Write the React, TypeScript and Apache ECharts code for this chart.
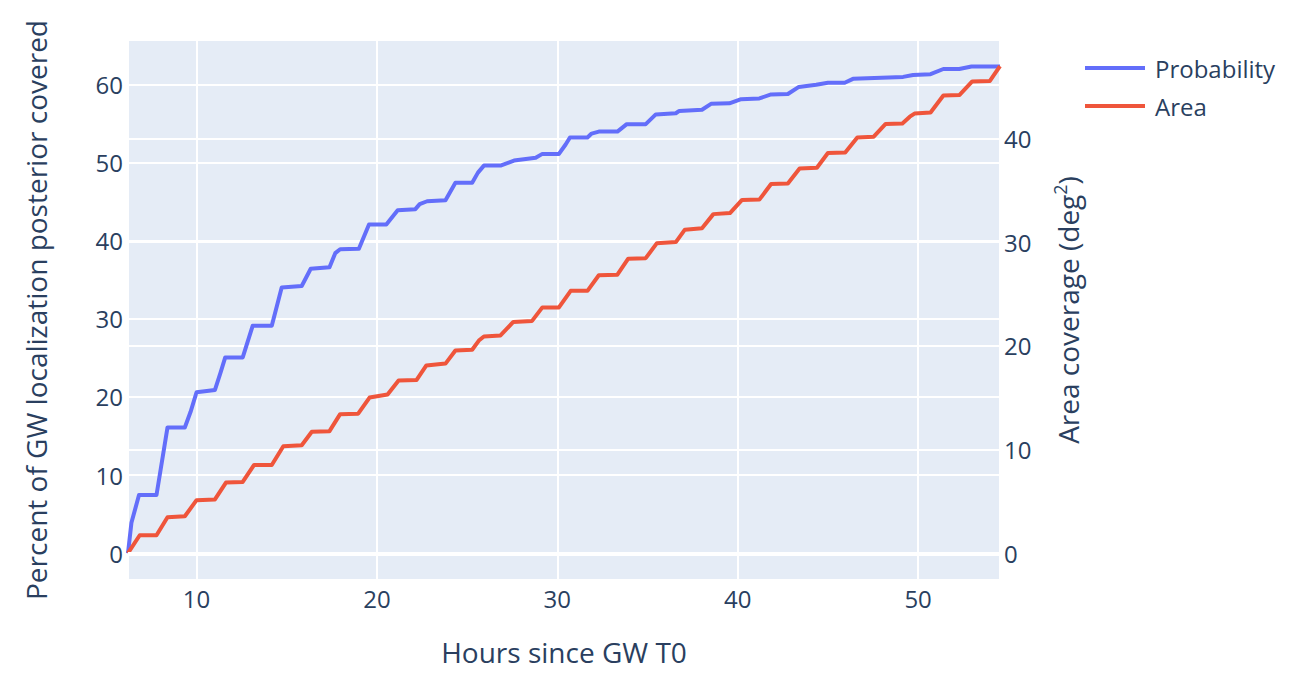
import React, { useEffect, useRef } from "react";
import * as echarts from "echarts";

const probHours = [6.2, 6.39, 6.81, 7.78, 8.39, 9.35, 9.67, 10.0, 11.02, 11.33, 11.59, 12.56, 13.11, 14.17, 14.72, 15.83, 16.33, 17.37, 17.69, 17.96, 19.0, 19.56, 20.52, 21.15, 22.13, 22.37, 22.78, 23.8, 24.35, 25.28, 25.6, 25.93, 26.85, 27.6, 28.8, 29.17, 30.09, 30.46, 30.7, 31.67, 31.9, 32.3, 33.33, 33.85, 34.9, 35.46, 36.57, 36.76, 38.02, 38.52, 39.54, 40.19, 41.2, 41.85, 42.78, 43.39, 44.35, 45.0, 45.93, 46.39, 49.17, 49.72, 50.69, 51.4, 52.28, 52.96, 54.54];
const probValues = [0, 3.9, 7.45, 7.45, 16.1, 16.1, 18.1, 20.6, 20.9, 23.1, 25.06, 25.06, 29.1, 29.1, 34.0, 34.2, 36.4, 36.6, 38.4, 38.9, 38.95, 42.07, 42.07, 43.9, 44.03, 44.67, 45.04, 45.18, 47.4, 47.4, 48.7, 49.6, 49.6, 50.25, 50.6, 51.1, 51.1, 52.3, 53.2, 53.2, 53.7, 53.95, 53.95, 54.9, 54.9, 56.15, 56.3, 56.6, 56.75, 57.5, 57.57, 58.1, 58.2, 58.7, 58.76, 59.67, 59.95, 60.2, 60.2, 60.7, 60.95, 61.2, 61.3, 61.96, 61.96, 62.28, 62.28];

const areaHours = [6.2, 6.85, 7.78, 8.39, 9.35, 10.0, 11.02, 11.63, 12.56, 13.19, 14.17, 14.81, 15.83, 16.39, 17.37, 17.96, 18.96, 19.59, 20.59, 21.2, 22.2, 22.74, 23.8, 24.35, 25.28, 25.65, 25.93, 26.85, 27.56, 28.6, 29.17, 30.09, 30.74, 31.67, 32.3, 33.33, 33.93, 34.9, 35.52, 36.57, 37.07, 38.02, 38.65, 39.57, 40.24, 41.2, 41.85, 42.78, 43.43, 44.39, 45.0, 45.96, 46.63, 47.54, 48.2, 49.13, 49.54, 49.8, 50.69, 51.4, 52.3, 53.0, 53.98, 54.54];
const areaValues = [0, 1.72, 1.72, 3.45, 3.55, 5.1, 5.17, 6.8, 6.86, 8.5, 8.5, 10.3, 10.4, 11.7, 11.76, 13.4, 13.45, 15.0, 15.3, 16.65, 16.7, 18.1, 18.28, 19.55, 19.62, 20.5, 20.9, 21.0, 22.3, 22.4, 23.7, 23.7, 25.3, 25.3, 26.8, 26.86, 28.4, 28.45, 29.9, 30.0, 31.2, 31.34, 32.7, 32.8, 34.07, 34.1, 35.6, 35.66, 37.1, 37.17, 38.6, 38.65, 40.1, 40.17, 41.4, 41.45, 42.1, 42.4, 42.5, 44.14, 44.2, 45.5, 45.55, 46.97];

const leftRange = [-3.42, 65.67];
const rightRange = [-2.6, 49.5];

const FONT = "'Open Sans', 'Noto Sans', sans-serif";
const TEXT = "#2a3f5f";

export default function App() {
  const ref = useRef<HTMLDivElement>(null);
  useEffect(() => {
    if (!ref.current) return;
    const chart = echarts.init(ref.current, null, { renderer: "svg" });
    const axisLabel = { color: TEXT, fontFamily: FONT, fontSize: 24, showMinLabel: false, showMaxLabel: false };
    chart.setOption({
      animation: false,
      backgroundColor: "#ffffff",
      textStyle: { fontFamily: FONT, color: TEXT },
      grid: { left: 128, right: 294, top: 40, bottom: 104, backgroundColor: "#E5ECF6", show: true, borderWidth: 0 },
      legend: {
        orient: "vertical",
        left: 1080,
        top: 48,
        itemWidth: 60,
        itemHeight: 4,
        itemGap: 8,
        data: [
          { name: "Probability", icon: "rect" },
          { name: "Area", icon: "rect" },
        ],
        textStyle: { color: TEXT, fontFamily: FONT, fontSize: 24, lineHeight: 30, padding: [0, 0, 0, 5] },
      },
      xAxis: {
        type: "value",
        min: probHours[0],
        max: probHours[probHours.length - 1],
        splitNumber: 5,
        axisLine: { show: false },
        axisTick: { show: false },
        axisLabel: { ...axisLabel, margin: 6 },
        splitLine: { show: true, lineStyle: { color: "#ffffff", width: 2 } },
        name: "Hours since GW T0",
        nameLocation: "middle",
        nameGap: 58,
        nameTextStyle: { color: TEXT, fontFamily: FONT, fontSize: 28 },
      },
      yAxis: [
        {
          type: "value",
          min: leftRange[0],
          max: leftRange[1],
          splitNumber: 6,
          axisLine: { show: false },
          axisTick: { show: false },
          axisLabel: { ...axisLabel, margin: 5 },
          splitLine: { show: true, lineStyle: { color: "#ffffff", width: 2 } },
          name: "Percent of GW localization posterior covered",
          nameLocation: "middle",
          nameRotate: 90,
          nameGap: 78,
          nameTextStyle: { color: TEXT, fontFamily: FONT, fontSize: 28 },
        },
        {
          type: "value",
          position: "right",
          min: rightRange[0],
          max: rightRange[1],
          splitNumber: 5,
          axisLine: { show: false },
          axisTick: { show: false },
          axisLabel: { ...axisLabel, margin: 4 },
          splitLine: { show: true, lineStyle: { color: "#ffffff", width: 2 } },
          name: "{a|Area coverage (deg}{s|2}{a|)}",
          nameLocation: "middle",
          nameRotate: 90,
          nameGap: 51,
          nameTextStyle: {
            color: TEXT,
            fontFamily: FONT,
            fontSize: 28,
            rich: {
              a: { color: TEXT, fontFamily: FONT, fontSize: 28, lineHeight: 34 },
              s: { color: TEXT, fontFamily: FONT, fontSize: 18, lineHeight: 34, verticalAlign: "top", padding: [0, 0, 8, 0] },
            },
          },
        },
      ],
      series: [
        {
          name: "zeroline",
          type: "line",
          data: [],
          z: 1,
          silent: true,
          markLine: {
            silent: true,
            symbol: "none",
            label: { show: false },
            lineStyle: { color: "#ffffff", width: 4, type: "solid" },
            data: [{ yAxis: 0 }],
          },
        },
        {
          name: "Probability",
          type: "line",
          yAxisIndex: 0,
          z: 3,
          showSymbol: false,
          symbol: "none",
          color: "#636efa",
          lineStyle: { color: "#636efa", width: 4, join: "round" },
          data: probHours.map((h, i) => [h, probValues[i]]),
        },
        {
          name: "Area",
          type: "line",
          yAxisIndex: 1,
          z: 3,
          showSymbol: false,
          symbol: "none",
          color: "#EF553B",
          lineStyle: { color: "#EF553B", width: 4, join: "round" },
          data: areaHours.map((h, i) => [h, areaValues[i]]),
        },
      ],
    });
    return () => chart.dispose();
  }, []);
  return <div ref={ref} style={{ position: "absolute", left: 0, top: 0, width: 1294, height: 684 }} />;
}
